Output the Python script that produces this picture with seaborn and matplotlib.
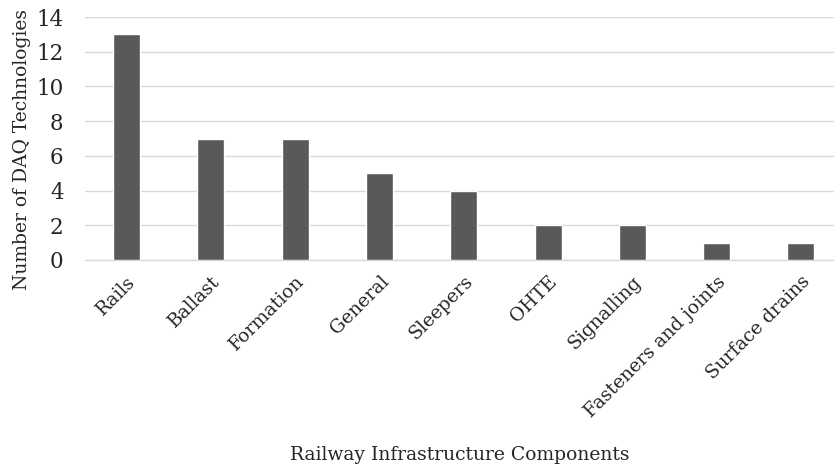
import matplotlib
matplotlib.use("Agg")
import matplotlib.pyplot as plt
import seaborn as sns
import pandas as pd

components = ["Rails", "Ballast", "Formation", "General", "Sleepers", "OHTE",
              "Signalling", "Fasteners and joints", "Surface drains"]
counts = [13, 7, 7, 5, 4, 2, 2, 1, 1]
y_ticks = [0, 2, 4, 6, 8, 10, 12, 14]

df = pd.DataFrame({"component": components, "count": counts})

sns.set_theme(style="white")
plt.rcParams["font.family"] = ["DejaVu Serif"]

fig = plt.figure(figsize=(8.34, 4.67), dpi=100)
W, H = 834, 467
left, right, top, bottom = 84.5, 843, 17, 260
ax = fig.add_axes([left / W, 1 - bottom / H, (right - left) / W, (bottom - top) / H])

sns.barplot(data=df, x="component", y="count", color="#595959", width=0.32,
            saturation=1, ax=ax, zorder=3)

ax.set_ylim(0, 14)
ax.set_yticks(y_ticks)
ax.set_xlim(-0.5, len(components) - 0.5)
ax.yaxis.grid(True, color="#d9d9d9", linewidth=1.0, zorder=0)
ax.xaxis.grid(False)
for s in ["top", "right", "left"]:
    ax.spines[s].set_visible(False)
ax.spines["bottom"].set_color("#d9d9d9")
ax.spines["bottom"].set_linewidth(1.0)
ax.tick_params(axis="x", length=0, labelsize=13.5, colors="#262626", pad=9)
ax.tick_params(axis="y", length=0, labelsize=15.5, colors="#262626", pad=15)
plt.setp(ax.get_xticklabels(), rotation=45, ha="right", rotation_mode="anchor")

ax.set_xlabel("Railway Infrastructure Components", fontsize=13.5, color="#262626",
              va="center")
ax.xaxis.set_label_coords((460 - left) / (right - left), -(455 - bottom) / (bottom - top))
ax.set_ylabel("Number of DAQ Technologies", fontsize=13.5, color="#262626",
              va="center")
ax.yaxis.set_label_coords(-(left - 22) / (right - left), (bottom - 150) / (bottom - top))

fig.savefig("out.png", dpi=100)
